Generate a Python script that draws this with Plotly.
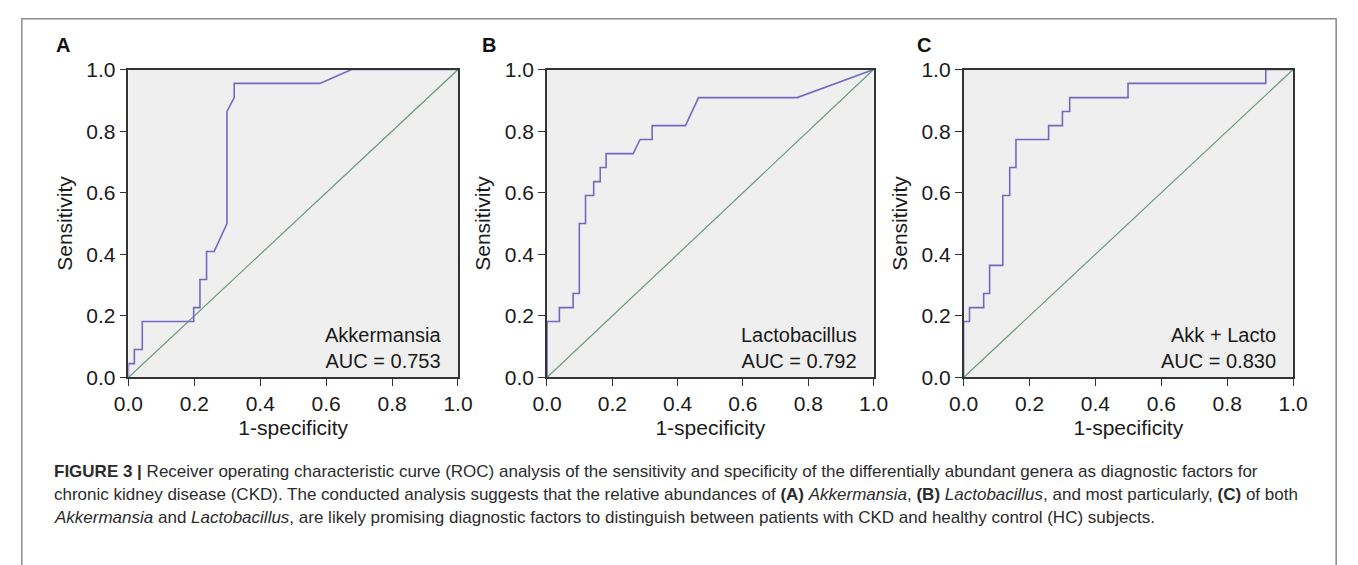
import plotly.graph_objects as go

# ---------------- data ----------------
fpr_akk = [0, 0, 0.018, 0.018, 0.042, 0.042, 0.198, 0.198, 0.217, 0.217, 0.237, 0.237,
           0.26, 0.299, 0.299, 0.321, 0.321, 0.581, 0.677, 1.0]
tpr_akk = [0, 0.045, 0.045, 0.091, 0.091, 0.182, 0.182, 0.227, 0.227, 0.318, 0.318, 0.409,
           0.409, 0.5, 0.864, 0.909, 0.955, 0.955, 1.0, 1.0]

fpr_lac = [0, 0, 0.038, 0.038, 0.08, 0.08, 0.099, 0.099, 0.118, 0.118, 0.143, 0.143,
           0.163, 0.163, 0.181, 0.181, 0.264, 0.285, 0.322, 0.322, 0.424, 0.464, 0.766, 1.0]
tpr_lac = [0, 0.182, 0.182, 0.227, 0.227, 0.273, 0.273, 0.5, 0.5, 0.591, 0.591, 0.636,
           0.636, 0.682, 0.682, 0.727, 0.727, 0.773, 0.773, 0.818, 0.818, 0.909, 0.909, 1.0]

fpr_comb = [0, 0, 0.018, 0.018, 0.061, 0.061, 0.079, 0.079, 0.119, 0.119, 0.14, 0.14,
            0.159, 0.159, 0.258, 0.258, 0.3, 0.3, 0.322, 0.322, 0.499, 0.499, 0.917, 0.917, 1.0]
tpr_comb = [0, 0.182, 0.182, 0.227, 0.227, 0.273, 0.273, 0.364, 0.364, 0.591, 0.591, 0.682,
            0.682, 0.773, 0.773, 0.818, 0.818, 0.864, 0.864, 0.909, 0.909, 0.955, 0.955, 1.0, 1.0]

diag = [0.0, 1.0]
panel_letters = ["A", "B", "C"]
panel_names = ["Akkermansia", "Lactobacillus", "Akk + Lacto"]
auc_values = ["0.753", "0.792", "0.830"]
tick_vals = [0.0, 0.2, 0.4, 0.6, 0.8, 1.0]

caption_lines = [
    "<b>FIGURE 3 |</b> Receiver operating characteristic curve (ROC) analysis of the sensitivity and specificity of the differentially abundant genera as diagnostic factors for",
    "chronic kidney disease (CKD). The conducted analysis suggests that the relative abundances of <b>(A)</b> <i>Akkermansia</i>, <b>(B)</b> <i>Lactobacillus</i>, and most particularly, <b>(C)</b> of both",
    "<i>Akkermansia</i> and <i>Lactobacillus</i>, are likely promising diagnostic factors to distinguish between patients with CKD and healthy control (HC) subjects.",
]

# ---------------- layout geometry ----------------
W, H = 1358, 565
def px_x(p): return p / W
def px_y(p): return 1 - p / H

x_domains = [(116, 453), (544, 878), (970, 1307)]
letter_offsets = [-76, -68, -50]
y_top, y_bot = 60, 381

ROC_COLOR = "#7268c4"
DIAG_COLOR = "#6a9b7f"
AXIS_COLOR = "#333333"
FONT = "Liberation Sans, Arial, sans-serif"
CAP_FONT = "Liberation Sans Narrow, Arial Narrow, Liberation Sans, Arial, sans-serif"

fig = go.Figure()
series = [(fpr_akk, tpr_akk), (fpr_lac, tpr_lac), (fpr_comb, tpr_comb)]

for i, (fx, ty) in enumerate(series):
    xa = "x" if i == 0 else f"x{i+1}"
    ya = "y" if i == 0 else f"y{i+1}"
    fig.add_trace(go.Scatter(x=diag, y=diag, mode="lines", xaxis=xa, yaxis=ya,
                             line=dict(color=DIAG_COLOR, width=1.2), showlegend=False,
                             hoverinfo="skip"))
    fig.add_trace(go.Scatter(x=fx, y=ty, mode="lines", xaxis=xa, yaxis=ya,
                             line=dict(color=ROC_COLOR, width=1.6), showlegend=False))

layout = dict(
    width=W, height=H,
    margin=dict(l=0, r=0, t=0, b=0),
    paper_bgcolor="white",
    plot_bgcolor="#efefef",
    font=dict(family=FONT, color="#1a1a1a", size=20),
    annotations=[], shapes=[],
)

for i, (x0, x1) in enumerate(x_domains):
    suffix = "" if i == 0 else str(i + 1)
    axis_common = dict(
        range=[0, 1], tickvals=tick_vals, tickformat=".1f",
        ticks="outside", ticklen=7, tickwidth=1.3, tickcolor=AXIS_COLOR,
        showline=True, mirror=True, linecolor=AXIS_COLOR, linewidth=1.5,
        showgrid=False, zeroline=False,
        tickfont=dict(family=FONT, size=21, color="#1a1a1a"),
        fixedrange=True,
    )
    layout["xaxis" + suffix] = dict(
        axis_common, domain=[px_x(x0), px_x(x1)], anchor="y" + suffix,
        title=dict(text="1-specificity", font=dict(family=FONT, size=21, color="#1a1a1a"), standoff=6),
    )
    layout["yaxis" + suffix] = dict(
        axis_common, domain=[px_y(y_bot), px_y(y_top)], anchor="x" + suffix,
        title=dict(text="Sensitivity", font=dict(family=FONT, size=21, color="#1a1a1a"), standoff=8),
    )
    xr = "x" if i == 0 else f"x{i+1}"
    yr = "y" if i == 0 else f"y{i+1}"
    layout["annotations"].append(dict(
        x=0.955, y=0.012, xref=xr, yref=yr, xanchor="right", yanchor="bottom",
        align="right", showarrow=False,
        text=f"{panel_names[i]}<br>AUC = {auc_values[i]}",
        font=dict(family=FONT, size=20, color="#1a1a1a"),
    ))
    layout["annotations"].append(dict(
        x=px_x(x0 + letter_offsets[i]), y=px_y(34), xref="paper", yref="paper",
        xanchor="left", yanchor="middle", showarrow=False,
        text=f"<b>{panel_letters[i]}</b>",
        font=dict(family=FONT, size=20, color="#111"),
    ))

cap_y = [479, 503, 527]
for line, yy in zip(caption_lines, cap_y):
    layout["annotations"].append(dict(
        x=px_x(38), y=px_y(yy), xref="paper", yref="paper",
        xanchor="left", yanchor="middle", showarrow=False, align="left",
        text=line, font=dict(family=CAP_FONT, size=17, color="#2b2b2b"),
    ))

layout["shapes"].append(dict(
    type="rect", xref="paper", yref="paper",
    x0=px_x(7), x1=px_x(1351), y0=px_y(585), y1=px_y(7),
    line=dict(color="#8c8c8c", width=1.5), fillcolor="rgba(0,0,0,0)", layer="below",
))

fig.update_layout(**layout)
fig.write_html("out.html", config={"displayModeBar": False},
               post_script="document.body.style.margin='0';document.body.style.overflow='hidden';")
